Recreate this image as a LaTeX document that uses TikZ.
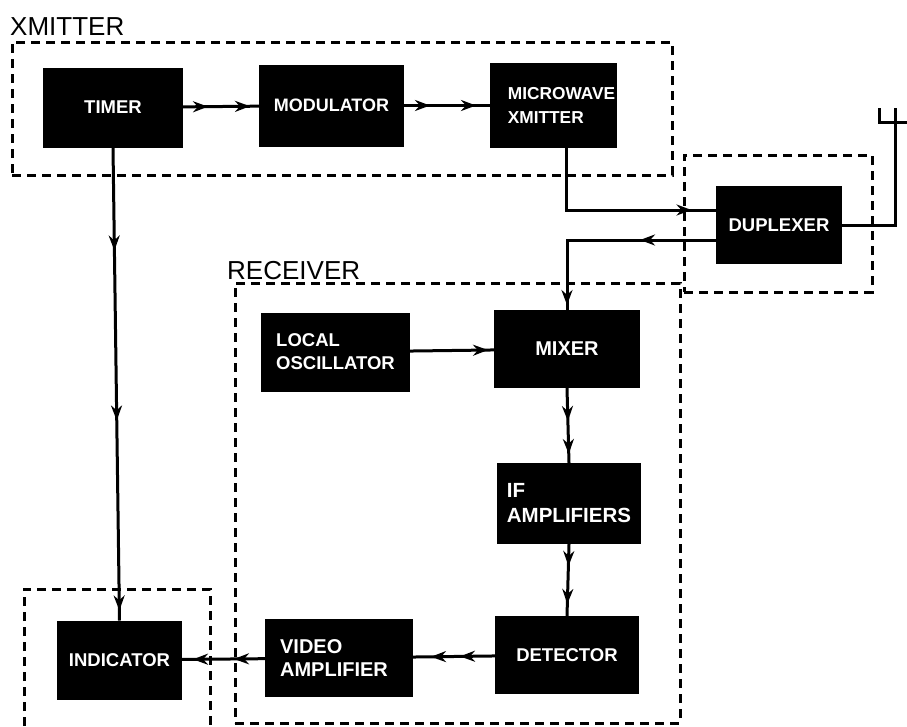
\documentclass[tikz,border=0pt]{standalone}
\usepackage{fontspec}
\setmainfont{Liberation Sans}
\usetikzlibrary{positioning,arrows.meta,decorations.markings}

\begin{document}
\begin{tikzpicture}[
  x=1pt,y=-1pt,
  blk/.style={fill=black,text=white,outer sep=0pt,inner sep=0pt,align=left,font=\bfseries\fontsize{18.5}{23}\selectfont},
  dbox/.style={draw,line width=3pt,dash pattern=on 9pt off 6pt},
  lbl/.style={font=\fontsize{26}{28}\selectfont,inner sep=0pt},
  sig/.style={line width=3pt},
  tip/.style={postaction={decorate,decoration={markings,mark=at position #1 with {\arrow{Stealth[length=15pt,width=11pt]}}}}},
]
\useasboundingbox (0,0) rectangle (907,726);

% xmitter row
\node[blk,minimum width=140pt,minimum height=80pt] (timer) at (113,107.5) {TIMER};
\node[blk,font=\bfseries\fontsize{18}{23}\selectfont,minimum width=145pt,minimum height=82pt,right=76pt of timer,yshift=2pt] (mod) {MODULATOR};
\node[blk,font=\bfseries\fontsize{17.3}{24}\selectfont,minimum width=127pt,minimum height=85pt,right=86pt of mod] (xmit) {\hspace*{16pt}MICROWAVE\\\hspace*{16pt}XMITTER};

\node[blk,minimum width=126pt,minimum height=78pt] (dup) at (779,225) {DUPLEXER};

% receiver
\node[blk,font=\bfseries\fontsize{20}{23}\selectfont,minimum width=146pt,minimum height=78pt] (mixer) at (567,349) {MIXER};
\node[blk,minimum width=149pt,minimum height=79pt,left=84pt of mixer,yshift=-3pt] (osc) {LOCAL\\OSCILLATOR};
\node[blk,font=\bfseries\fontsize{20.5}{25}\selectfont,minimum width=144pt,minimum height=81pt,below=75pt of mixer,xshift=2pt] (ifamp) {IF\\AMPLIFIERS};
\node[blk,minimum width=144pt,minimum height=78pt,below=72pt of ifamp,xshift=-2pt] (det) {DETECTOR};
\node[blk,font=\bfseries\fontsize{20}{23}\selectfont,minimum width=148pt,minimum height=78pt,left=82pt of det,yshift=-3pt] (video) {VIDEO\\AMPLIFIER\hspace*{10pt}};
\node[blk,minimum width=125pt,minimum height=79pt,left=83pt of video,yshift=-2pt] (ind) {INDICATOR};

% dashed boxes
\node[dbox,minimum width=660pt,minimum height=133pt] (xbox) at (342,108.5) {};
\node[dbox,minimum width=188pt,minimum height=137pt] (dbox1) at (778,223.5) {};
\node[dbox,minimum width=445pt,minimum height=440pt] (rbox) at (457.5,503) {};
\draw[dbox] (24,726) -- (24,589) -- (210,589) -- (210,726);

\node[lbl,anchor=south west] (xlbl) at (10,36) {XMITTER};
\node[lbl,anchor=south west] (rlbl) at (227,280) {RECEIVER};

% connectors
\draw[sig,tip=25pt,tip=67pt] (timer) -- (mod);
\draw[sig,tip=26pt,tip=72pt] (mod) -- (xmit);
\draw[sig,tip=103pt,tip=273pt,tip=463pt] (timer.south) -- (ind.north);
\draw[sig,tip=187pt] ([xshift=13pt]xmit.south) |- ([yshift=15pt]dup.west);
\draw[sig,tip=76pt,tip=214pt] ([yshift=-15pt]dup.west) -| (mixer.north);
\draw[sig,tip=78pt] (osc) -- (mixer);
\draw[sig,tip=33pt,tip=66pt] (mixer.south) -- (ifamp.north);
\draw[sig,tip=22pt,tip=60pt] (ifamp.south) -- (det.north);
\draw[sig,tip=35pt,tip=64pt] (det) -- (video);
\draw[sig,tip=31pt,tip=72pt] (video) -- (ind);

% antenna
\coordinate (ant) at (895,122);
\draw[sig] (dup.east) -| (ant);
\draw[sig] (879,108) |- (907,122);
\draw[sig] (ant) -- (895,108);
\end{tikzpicture}
\end{document}
